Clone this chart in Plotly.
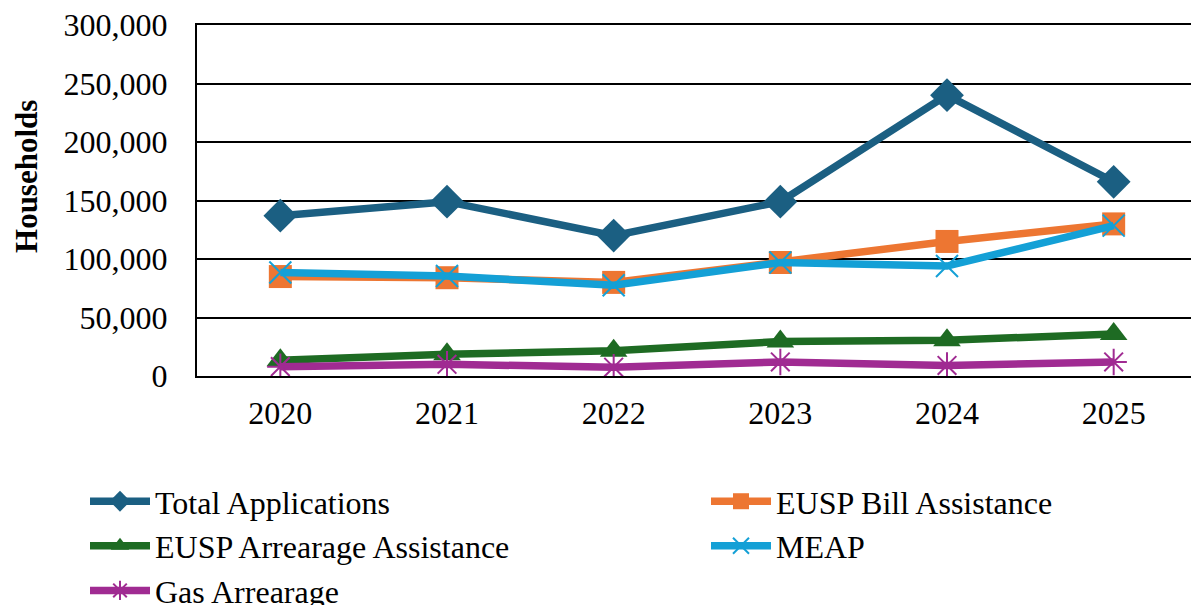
import plotly.graph_objects as go

years = ['2020', '2021', '2022', '2023', '2024', '2025']

total_applications = [137000, 149000, 120000, 149000, 240000, 166000]
eusp_bill = [85000, 84000, 80000, 97000, 115000, 130000]
eusp_arrearage = [13500, 18500, 21500, 29500, 30500, 36000]
meap = [88500, 85500, 77500, 97000, 94000, 128500]
gas_arrearage = [8000, 10000, 7500, 12000, 9000, 12000]

FONT = 'Liberation Serif, Times New Roman, serif'

# name, values, colour, marker symbol, marker size, legend column
series = [
    ('Total Applications', total_applications, '#1B5F82', 'diamond', 26, 'legend'),
    ('EUSP Bill Assistance', eusp_bill, '#ED7632', 'square', 23, 'legend2'),
    ('EUSP Arrearage Assistance', eusp_arrearage, '#1E6B23', 'triangle-up', 24, 'legend'),
    ('MEAP', meap, '#14A0D6', 'x-thin', 22, 'legend2'),
    ('Gas Arrearage', gas_arrearage, '#A02B92', 'asterisk', 22, 'legend'),
]

fig = go.Figure()
for name, values, color, symbol, size, legend in series:
    marker = dict(symbol=symbol, size=size, color=color)
    if symbol in ('x-thin', 'asterisk'):
        marker['line'] = dict(color=color, width=2)
    fig.add_trace(go.Scatter(
        x=years,
        y=values,
        name=name,
        mode='lines+markers',
        line=dict(color=color, width=7.5),
        marker=marker,
        legend=legend,
    ))

fig.add_annotation(
    text='<b>Households</b>',
    textangle=-90,
    xref='paper', yref='paper',
    x=-0.17, y=0.567,
    xanchor='center', yanchor='middle',
    showarrow=False,
    font=dict(size=31, color='black', family=FONT),
)

legend_style = dict(
    orientation='v',
    y=-0.279,
    xanchor='left',
    yanchor='top',
    itemwidth=60,
    font=dict(size=32, family=FONT, color='black'),
    bgcolor='rgba(0,0,0,0)',
    tracegroupgap=0,
)

# the page puts the figure 8px in from the top-left corner
fig.update_layout(
    width=1199,
    height=605,
    paper_bgcolor='white',
    plot_bgcolor='white',
    font=dict(family=FONT, size=32, color='black'),
    margin=dict(l=189, r=10, t=17, b=237, autoexpand=False),
    showlegend=True,
    xaxis=dict(
        type='category',
        range=[-0.5, 5.5],
        showgrid=False,
        showline=True,
        mirror=True,
        linecolor='black',
        linewidth=2,
        ticks='',
        ticklabelstandoff=8,
        tickfont=dict(size=32),
    ),
    yaxis=dict(
        range=[0, 300000],
        dtick=50000,
        tickformat=',d',
        showgrid=True,
        gridcolor='black',
        gridwidth=2,
        showline=True,
        linecolor='black',
        linewidth=2,
        zeroline=True,
        zerolinecolor='black',
        zerolinewidth=2,
        ticks='',
        ticklabelstandoff=21,
        ticklabeloverflow='allow',
        tickfont=dict(size=32),
    ),
    legend=dict(legend_style, x=-0.112),
    legend2=dict(legend_style, x=0.509),
)

fig.write_html('out.html')
